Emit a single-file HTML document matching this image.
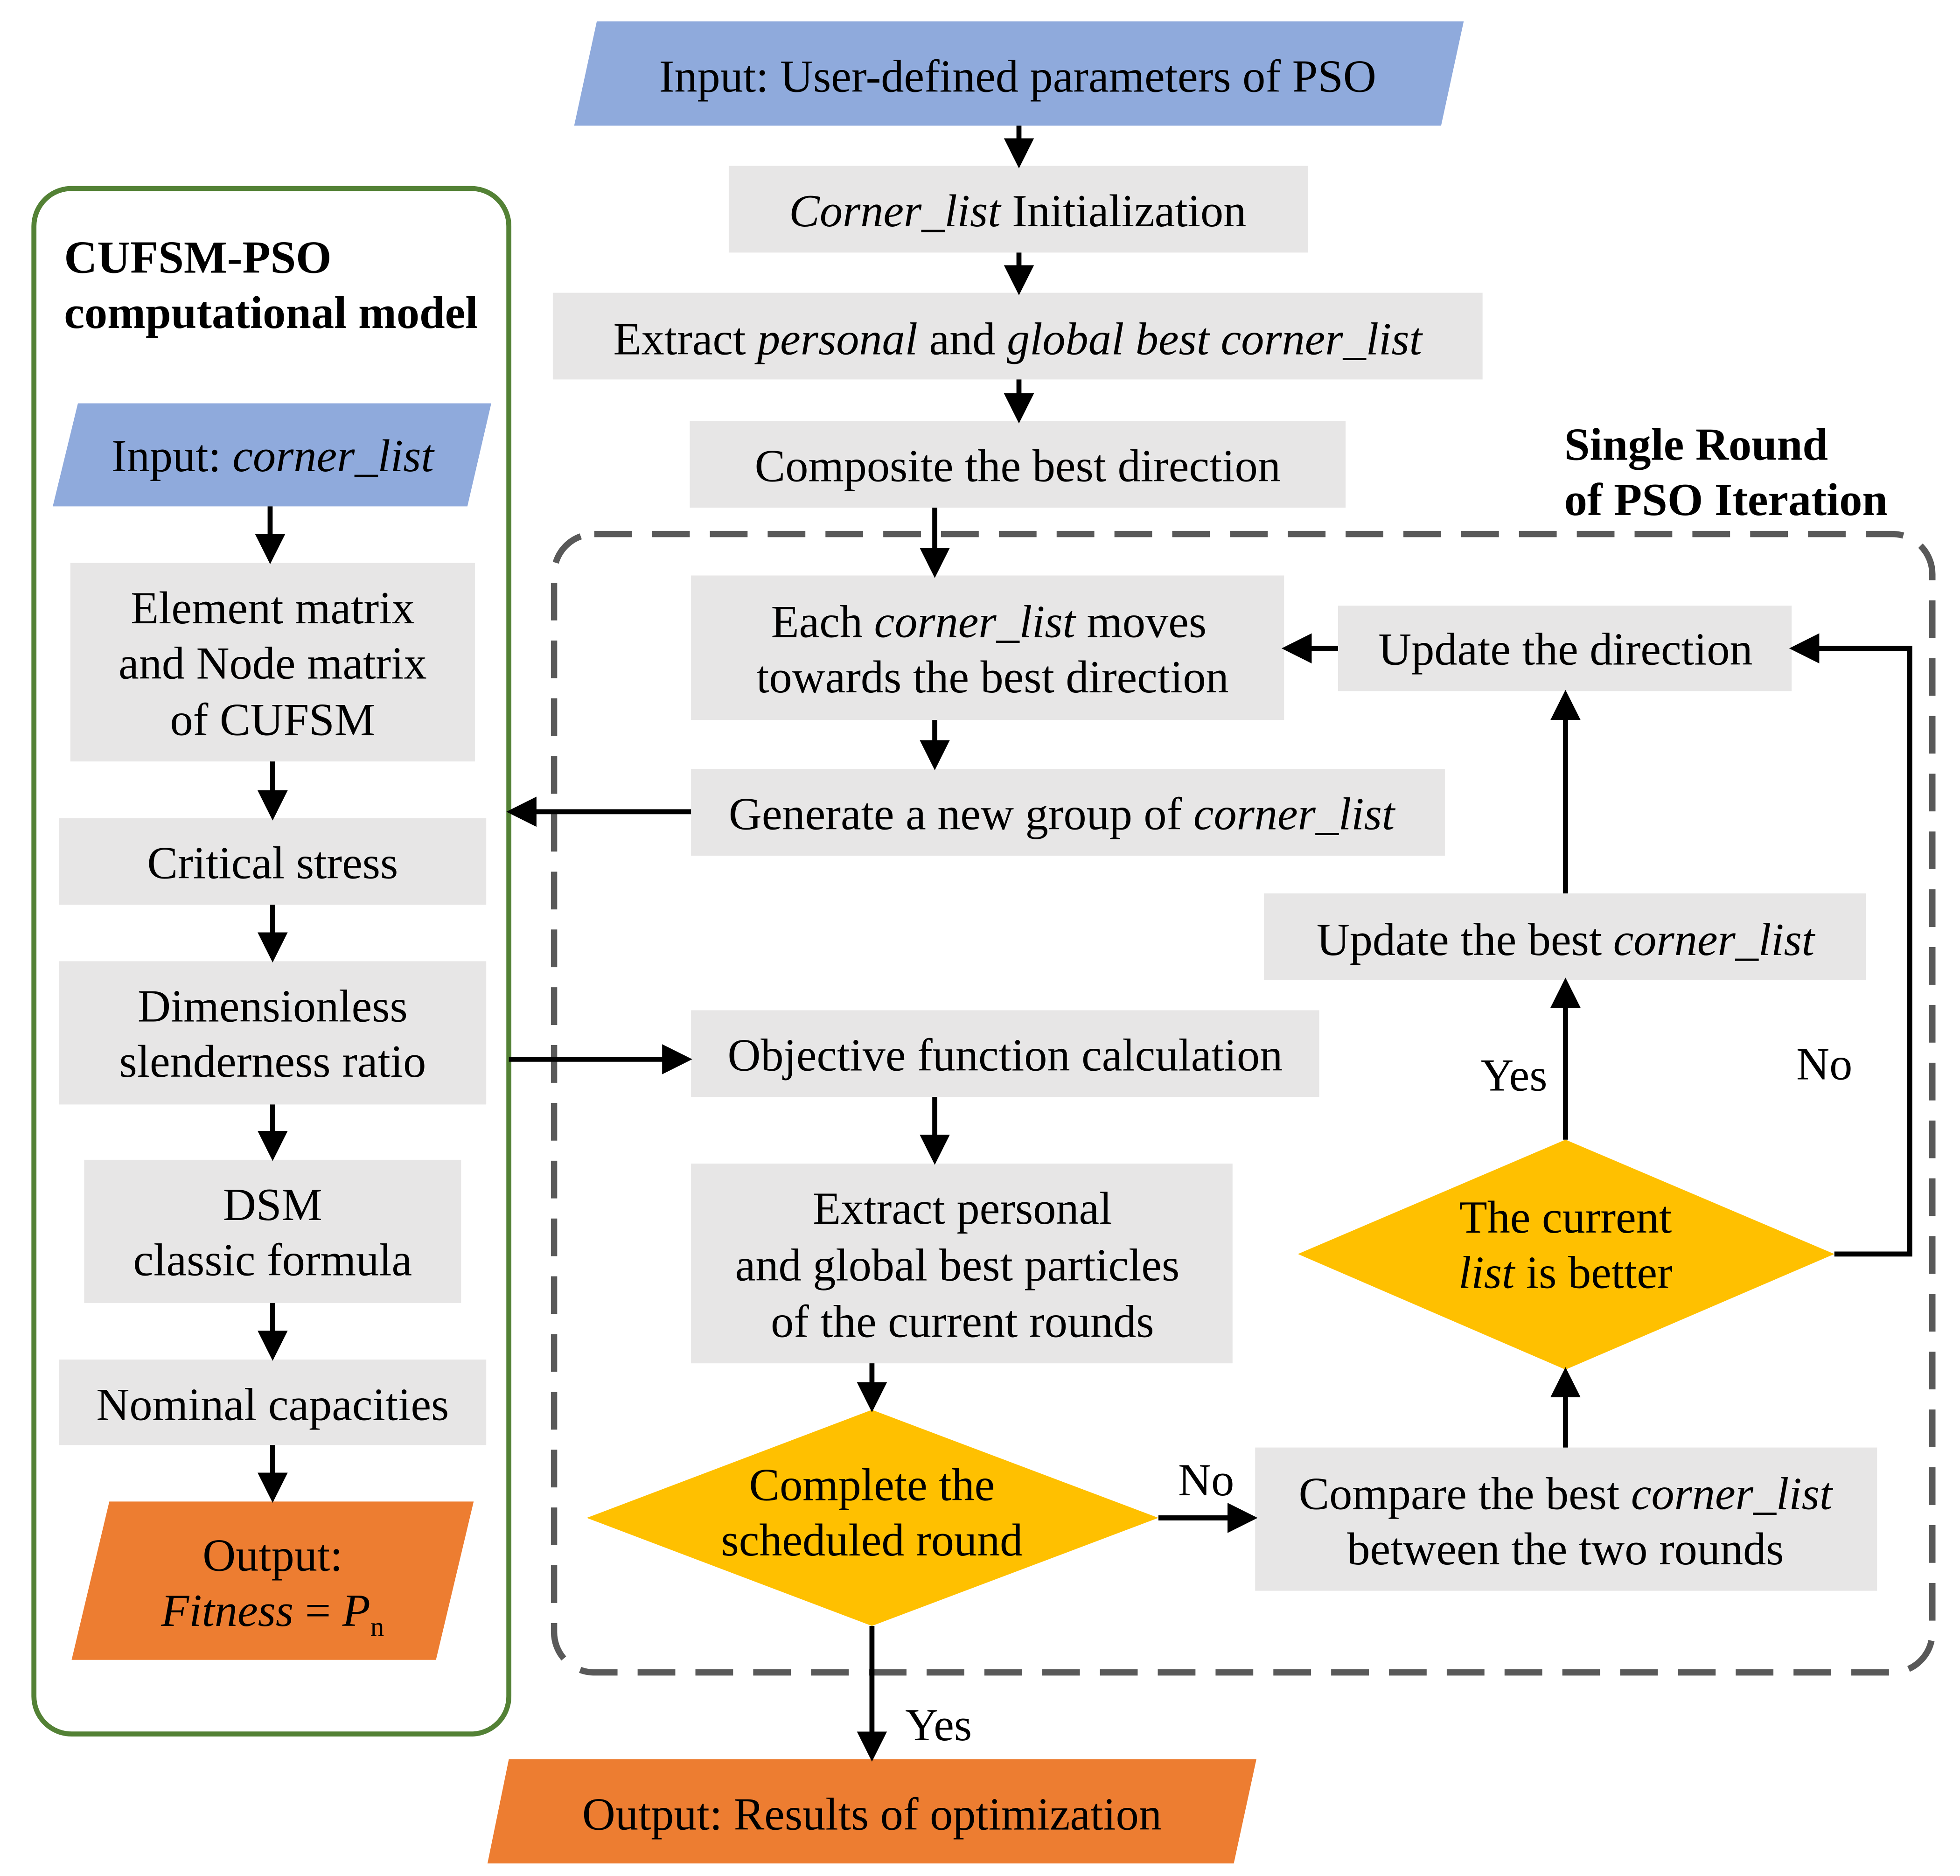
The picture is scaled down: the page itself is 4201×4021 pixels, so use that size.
<!DOCTYPE html>
<html><head><meta charset="utf-8"><style>html,body{margin:0;padding:0;background:#fff}svg{display:block}</style></head>
<body>
<svg width="4201" height="4021" viewBox="0 0 1560 1493" preserveAspectRatio="none" xmlns="http://www.w3.org/2000/svg" font-family="Liberation Serif, serif" font-size="36.5" text-anchor="middle">
<defs><marker id="a" markerWidth="6" markerHeight="6" refX="5" refY="3" orient="auto" markerUnits="strokeWidth"><path d="M0,0 L6,3 L0,6 z" fill="#000"/></marker></defs>
<g fill="#e7e6e6">
<rect x="580" y="132" width="461" height="69"/>
<rect x="440" y="233" width="740" height="69"/>
<rect x="549" y="335" width="522" height="69"/>
<rect x="550" y="458" width="472" height="115"/>
<rect x="550" y="612" width="600" height="69"/>
<rect x="1065" y="482" width="361" height="68"/>
<rect x="1006" y="711" width="479" height="69"/>
<rect x="550" y="804" width="500" height="69"/>
<rect x="550" y="926" width="431" height="159"/>
<rect x="999" y="1152" width="495" height="114"/>
<rect x="56" y="448" width="322" height="158"/>
<rect x="47" y="651" width="340" height="69"/>
<rect x="47" y="765" width="340" height="114"/>
<rect x="67" y="923" width="300" height="114"/>
<rect x="47" y="1082" width="340" height="68"/>
</g>
<polygon points="475,17 1165,17 1147,100 457,100" fill="#8faadc"/>
<polygon points="62,321 391,321 372,403 42,403" fill="#8faadc"/>
<polygon points="87,1195 377,1195 347,1321 57,1321" fill="#ed7d31"/>
<polygon points="405,1400 1000,1400 982,1483 388,1483" fill="#ed7d31"/>
<polygon points="694,1122 922,1208 694,1294 467,1208" fill="#ffc000"/>
<polygon points="1246,907 1460,998 1246,1090 1033,998" fill="#ffc000"/>
<rect x="441" y="425" width="1097" height="906" rx="32" fill="none" stroke="#595959" stroke-width="5" stroke-dasharray="30 16"/>
<rect x="27" y="150" width="378" height="1230" rx="30" fill="none" stroke="#538135" stroke-width="4"/>
<g stroke="#000" stroke-width="4" fill="none" marker-end="url(#a)">
<line x1="811" y1="100" x2="811" y2="130"/>
<line x1="811" y1="201" x2="811" y2="231"/>
<line x1="811" y1="302" x2="811" y2="333"/>
<line x1="744" y1="404" x2="744" y2="456"/>
<line x1="744" y1="573" x2="744" y2="609"/>
<line x1="550" y1="646" x2="407" y2="646"/>
<line x1="1065" y1="516" x2="1024" y2="516"/>
<line x1="1246" y1="711" x2="1246" y2="553"/>
<line x1="405" y1="843" x2="547" y2="843"/>
<line x1="744" y1="873" x2="744" y2="923"/>
<line x1="694" y1="1085" x2="694" y2="1120"/>
<line x1="922" y1="1208" x2="997" y2="1208"/>
<line x1="1246" y1="1152" x2="1246" y2="1092"/>
<line x1="1246" y1="907" x2="1246" y2="782"/>
<polyline points="1460,998 1520,998 1520,516 1428,516"/>
<line x1="694" y1="1294" x2="694" y2="1398"/>
<line x1="215" y1="403" x2="215" y2="445"/>
<line x1="217" y1="606" x2="217" y2="649"/>
<line x1="217" y1="720" x2="217" y2="762"/>
<line x1="217" y1="879" x2="217" y2="920"/>
<line x1="217" y1="1037" x2="217" y2="1079"/>
<line x1="217" y1="1150" x2="217" y2="1192"/>
</g>
<g fill="#000">
<text x="810" y="73">Input: User-defined parameters of PSO</text>
<text x="810" y="180"><tspan font-style="italic">Corner_list</tspan> Initialization</text>
<text x="810" y="282">Extract <tspan font-style="italic">personal</tspan> and <tspan font-style="italic">global best corner_list</tspan></text>
<text x="810" y="383">Composite the best direction</text>
<text x="787" y="507">Each <tspan font-style="italic">corner_list</tspan> moves</text>
<text x="790" y="551">towards the best direction</text>
<text x="845" y="660">Generate a new group of <tspan font-style="italic">corner_list</tspan></text>
<text x="1246" y="529">Update the direction</text>
<text x="1246" y="760">Update the best <tspan font-style="italic">corner_list</tspan></text>
<text x="800" y="852">Objective function calculation</text>
<text x="766" y="974">Extract personal</text>
<text x="762" y="1019">and global best  particles</text>
<text x="766" y="1064">of the current rounds</text>
<text x="694" y="1194">Complete the</text>
<text x="694" y="1238">scheduled round</text>
<text x="1246" y="981">The current</text>
<text x="1246" y="1025"><tspan font-style="italic">list</tspan> is better</text>
<text x="1246" y="1201">Compare the best <tspan font-style="italic">corner_list</tspan></text>
<text x="1246" y="1245">between the two rounds</text>
<text x="960" y="1190">No</text>
<text x="1205" y="868">Yes</text>
<text x="1452" y="859">No</text>
<text x="747" y="1385">Yes</text>
<text x="694" y="1456">Output: Results of optimization</text>
<text x="1245" y="366" text-anchor="start" font-weight="bold" font-size="36.5">Single Round</text>
<text x="1245" y="410" text-anchor="start" font-weight="bold" font-size="36.5">of PSO Iteration</text>
<text x="51" y="217" text-anchor="start" font-weight="bold" font-size="36.5">CUFSM-PSO</text>
<text x="51" y="261" text-anchor="start" font-weight="bold" font-size="36.5">computational model</text>
<text x="217" y="375">Input: <tspan font-style="italic">corner_list</tspan></text>
<text x="217" y="496">Element matrix</text>
<text x="217" y="540">and Node matrix</text>
<text x="217" y="585">of CUFSM</text>
<text x="217" y="699">Critical stress</text>
<text x="217" y="813">Dimensionless</text>
<text x="217" y="857">slenderness ratio</text>
<text x="217" y="971">DSM</text>
<text x="217" y="1015">classic formula</text>
<text x="217" y="1130">Nominal capacities</text>
<text x="217" y="1250">Output:</text>
<text x="217" y="1294"><tspan font-style="italic">Fitness</tspan> = <tspan font-style="italic">P</tspan><tspan font-size="22" dy="8">n</tspan></text>
</g>
</svg>
</body></html>
